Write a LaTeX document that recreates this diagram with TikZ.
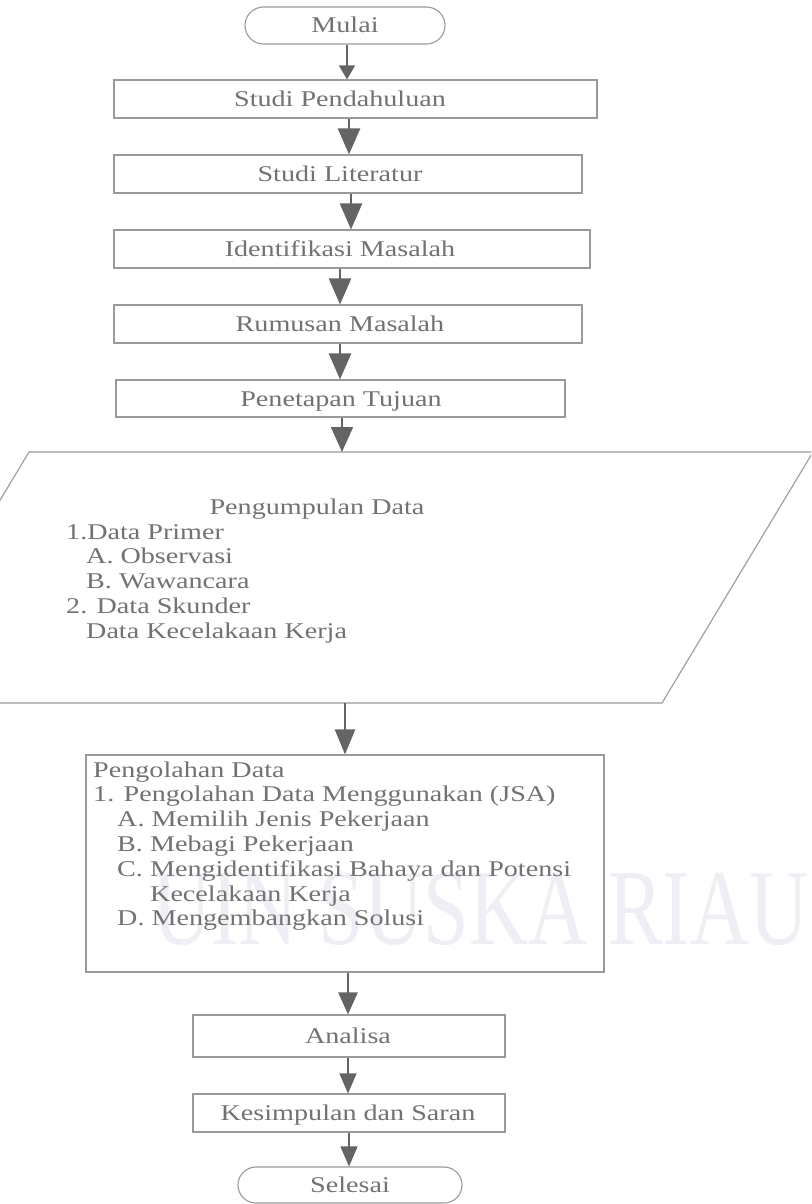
\documentclass[tikz,border=0pt]{standalone}
\usepackage{fontspec}
\setmainfont{Liberation Serif}[FakeStretch=1.25]
\newfontfamily\wmfont{Liberation Serif}[FakeStretch=0.76]
\usetikzlibrary{arrows.meta,shapes.misc}
\definecolor{txtgray}{HTML}{727272}
\definecolor{linegray}{HTML}{9A9A9A}
\definecolor{arrgray}{HTML}{646464}
\definecolor{wmark}{HTML}{EDEFF4}
\begin{document}
\begin{tikzpicture}[x=1pt,y=-1pt,
  stepbox/.style={draw=linegray, line width=1.1pt, rectangle, inner sep=0pt},
  termbox/.style={draw=linegray, line width=1.1pt, rounded rectangle, inner sep=0pt},
  lbl/.style={text=txtgray, inner sep=0pt, font=\fontsize{22.5}{24.8}\selectfont},
  iobox/.style={draw=linegray, line width=1.1pt},
  arrthin/.style={draw=arrgray, line width=1.2pt, -{Triangle[width=17pt,length=20pt]}},
  arrthick/.style={draw=arrgray, line width=2.4pt, -{Triangle[width=22pt,length=26pt]}},
  arrmid/.style={draw=arrgray, line width=2.4pt, -{Triangle[width=19pt,length=22pt]}},
]
\useasboundingbox (0,0) rectangle (811,1204);
\fill[white] (0,0) rectangle (811,1204);
\clip (0,0) rectangle (811,1204);

% watermark text
\node[anchor=base west, inner sep=0pt, text=wmark, font=\wmfont\fontsize{108}{108}\selectfont] (wm) at (152,944) {UIN SUSKA RIAU};

% boxes
\node[termbox, minimum width=200pt, minimum height=37pt] (b0) at (345,25.5) {};
\node[stepbox, minimum width=483pt, minimum height=38pt] (b1) at (355.5,99) {};
\node[stepbox, minimum width=468pt, minimum height=38pt] (b2) at (348,174) {};
\node[stepbox, minimum width=476pt, minimum height=38pt] (b3) at (352,249) {};
\node[stepbox, minimum width=468pt, minimum height=38pt] (b4) at (348,324) {};
\node[stepbox, minimum width=449pt, minimum height=37pt] (b5) at (340.5,398.5) {};
\node[stepbox, minimum width=518pt, minimum height=217pt] (b7) at (345,863.5) {};
\node[stepbox, minimum width=312pt, minimum height=42pt] (b8) at (349,1036) {};
\node[stepbox, minimum width=312pt, minimum height=38pt] (b9) at (349,1113) {};
\node[termbox, minimum width=224pt, minimum height=36pt] (b10) at (350,1185) {};

% parallelogram (data collection)
\coordinate (pTL) at (29,452);
\coordinate (pTR) at (813,452);
\coordinate (pBR) at (662,703);
\coordinate (pBL) at (-122,703);
\draw[iobox] (pTL) -- (pTR) -- (pBR) -- (pBL) -- cycle;
\coordinate (ptop) at (342,452);
\coordinate (pbot) at (345,703);

% labels
\node[lbl, anchor=base] (t0) at (345,33) {Mulai};
\node[lbl, anchor=base] (t1) at (340,106.5) {Studi Pendahuluan};
\node[lbl, anchor=base] (t2) at (340,181.5) {Studi Literatur};
\node[lbl, anchor=base] (t3) at (340,256.5) {Identifikasi Masalah};
\node[lbl, anchor=base] (t4) at (340,331.5) {Rumusan Masalah};
\node[lbl, anchor=base] (t5) at (341,406) {Penetapan Tujuan};

\node[lbl, anchor=base] (t6) at (317,514) {Pengumpulan Data};
\node[lbl, anchor=base west] (t6a) at (66,539) {1.Data Primer};
\node[lbl, anchor=base west] (t6b) at (86,563.5) {A. Observasi};
\node[lbl, anchor=base west] (t6c) at (86,588.5) {B. Wawancara};
\node[lbl, anchor=base west] (t6d) at (66,613) {2. Data Skunder};
\node[lbl, anchor=base west] (t6e) at (86,638) {Data Kecelakaan Kerja};

\node[lbl, anchor=base west] (t7) at (93,777) {Pengolahan Data};
\node[lbl, anchor=base west] (t7a) at (93,801.8) {1. Pengolahan Data Menggunakan (JSA)};
\node[lbl, anchor=base west] (t7b) at (117,826.6) {A. Memilih Jenis Pekerjaan};
\node[lbl, anchor=base west] (t7c) at (117,851.4) {B. Mebagi Pekerjaan};
\node[lbl, anchor=base west] (t7d) at (117,876.2) {C. Mengidentifikasi Bahaya dan Potensi};
\node[lbl, anchor=base west] (t7e) at (150,901) {Kecelakaan Kerja};
\node[lbl, anchor=base west] (t7f) at (117,925.8) {D. Mengembangkan Solusi};

\node[lbl, anchor=base] (t8) at (348,1043.5) {Analisa};
\node[lbl, anchor=base] (t9) at (348,1120.5) {Kesimpulan dan Saran};
\node[lbl, anchor=base] (t10) at (350,1192) {Selesai};

% arrow x positions
\coordinate (x1) at (347,0);
\coordinate (x2) at (349,0);
\coordinate (x3) at (351,0);
\coordinate (x4) at (340,0);
\coordinate (x5) at (340,0);
\coordinate (x8) at (348,0);
\coordinate (x9) at (348,0);
\coordinate (x10) at (349,0);

% connectors
\draw[draw=arrgray, line width=1.2pt, -{Triangle[width=16pt,length=14pt]}] (b0.south -| x1) -- (b1.north -| x1);
\draw[arrthick] (b1.south -| x2) -- (b2.north -| x2);
\draw[arrthick] (b2.south -| x3) -- (b3.north -| x3);
\draw[arrthick] (b3.south -| x4) -- (b4.north -| x4);
\draw[arrthick] (b4.south -| x5) -- (b5.north -| x5);
\draw[draw=arrgray, line width=1.6pt, -{Triangle[width=22pt,length=25pt]}] (b5.south -| ptop) -- (ptop);
\draw[arrthick, -{Triangle[width=20pt,length=25pt]}] (pbot) -- (b7.north -| pbot);
\draw[arrmid] (b7.south -| x8) -- (b8.north -| x8);
\draw[arrthin] (b8.south -| x9) -- (b9.north -| x9);
\draw[arrthin] (b9.south -| x10) -- (b10.north -| x10);
\end{tikzpicture}
\end{document}
